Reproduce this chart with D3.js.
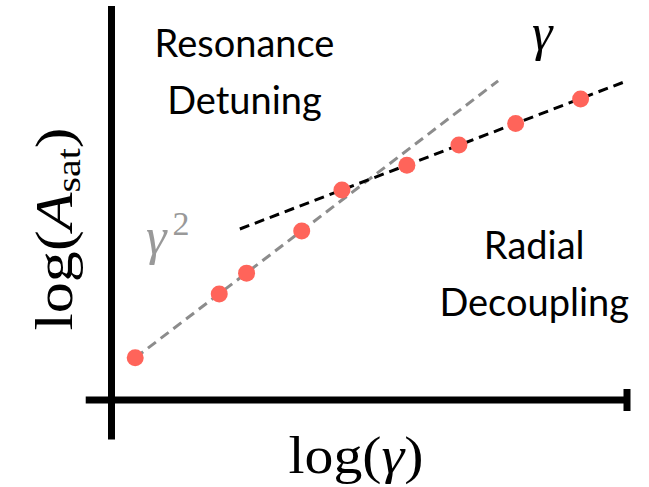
<!DOCTYPE html>
<html lang="en">
<head>
  <meta charset="UTF-8">
  <title>Saturation amplitude vs gamma</title>
  <script src="https://d3js.org/d3.v7.min.js"></script>
  <style>
    body { margin: 0; background: #fff; }
    .region { font-family: Lato, "Open Sans", sans-serif; font-size: 38px; fill: #000; }
    .math { font-family: "Liberation Serif", "DejaVu Serif", serif; }
    .axis-line { stroke: #000; stroke-width: 7; }
  </style>
</head>
<body>
  <svg width="649" height="487"></svg>

  <script>
    // log(gamma) and log(A_sat) of the simulated points (arbitrary units)
    const logGamma = [0.46, 2.09, 2.62, 3.69, 4.47, 5.73, 6.74, 7.84, 9.10];
    const logAsat  = [1.07, 2.69, 3.22, 4.29, 5.33, 5.96, 6.47, 7.02, 7.64];

    // guide lines: gamma^2 (slope 1) and gamma (slope 1/2)
    const gammaSqLine = [[0.46, 1.07], [7.50, 8.10]];
    const gammaLine   = [[2.49, 4.34], [10.0, 8.10]];

    const regionLabels = [
      { lines: ['Resonance', 'Detuning'], x: 2.58, y: 8.7 },
      { lines: ['Radial', 'Decoupling'], x: 8.2, y: 3.58 }
    ];

    const svg = d3.select('svg');

    const x = d3.scaleLinear().domain([0, 10]).range([111.5, 627]);
    const y = d3.scaleLinear().domain([0, 10]).range([400, 6]);

    // axes (drawn as plain thick lines, no ticks)
    svg.append('line')
      .attr('class', 'axis-line')
      .attr('x1', x(-0.5)).attr('x2', x(10))
      .attr('y1', y(0)).attr('y2', y(0));

    svg.append('line')
      .attr('class', 'axis-line')
      .attr('x1', x(0)).attr('x2', x(0))
      .attr('y1', y(-1)).attr('y2', y(10));

    // end tick on x axis
    svg.append('line')
      .attr('class', 'axis-line')
      .attr('x1', x(10)).attr('x2', x(10))
      .attr('y1', y(0) - 11).attr('y2', y(0) + 11);

    const line = d3.line()
      .x(d => x(d[0]))
      .y(d => y(d[1]));

    svg.append('path')
      .datum(gammaSqLine)
      .attr('d', line)
      .attr('fill', 'none')
      .attr('stroke', '#8c8c8c')
      .attr('stroke-width', 3)
      .attr('stroke-dasharray', '10,6');

    svg.append('path')
      .datum(gammaLine)
      .attr('d', line)
      .attr('fill', 'none')
      .attr('stroke', '#000')
      .attr('stroke-width', 3)
      .attr('stroke-dasharray', '10,6');

    // points
    svg.selectAll('.dot')
      .data(logGamma)
      .enter().append('circle')
      .attr('class', 'dot')
      .attr('cx', d => x(d))
      .attr('cy', (d, i) => y(logAsat[i]))
      .attr('r', 8.5)
      .attr('fill', '#ff645a');

    // region labels
    regionLabels.forEach(r => {
      const t = svg.append('text')
        .attr('class', 'region')
        .attr('text-anchor', 'middle')
        .attr('x', x(r.x))
        .attr('y', y(r.y));
      r.lines.forEach((s, i) => {
        t.append('tspan')
          .attr('x', x(r.x))
          .attr('dy', i === 0 ? 0 : 57)
          .text(s);
      });
    });

    // slope labels
    svg.append('text')
      .attr('class', 'math')
      .attr('x', 532).attr('y', 50)
      .attr('font-size', 52)
      .attr('font-style', 'italic')
      .text('γ');

    const g2 = svg.append('text')
      .attr('class', 'math')
      .attr('x', 146).attr('y', 254)
      .attr('font-size', 52)
      .attr('fill', '#999');
    g2.append('tspan').attr('font-style', 'italic').text('γ');
    g2.append('tspan').attr('font-size', 34).attr('dx', 6).attr('dy', -19).text('2');

    // axis titles
    svg.append('text')
      .attr('class', 'math')
      .attr('text-anchor', 'middle')
      .attr('x', 356).attr('y', 473)
      .attr('font-size', 52)
      .attr('textLength', 135)
      .attr('lengthAdjust', 'spacingAndGlyphs')
      .html('log(<tspan font-style="italic">γ</tspan>)');

    const yt = svg.append('text')
      .attr('class', 'math')
      .attr('text-anchor', 'middle')
      .attr('transform', 'translate(72,229) rotate(-90)')
      .attr('font-size', 53)
      .attr('textLength', 203)
      .attr('lengthAdjust', 'spacingAndGlyphs');
    yt.append('tspan').text('log(');
    yt.append('tspan').attr('font-style', 'italic').text('A');
    yt.append('tspan').attr('font-size', 34).attr('dy', 8).text('sat');
    yt.append('tspan').attr('dy', -8).text(')');
  </script>
</body>
</html>
